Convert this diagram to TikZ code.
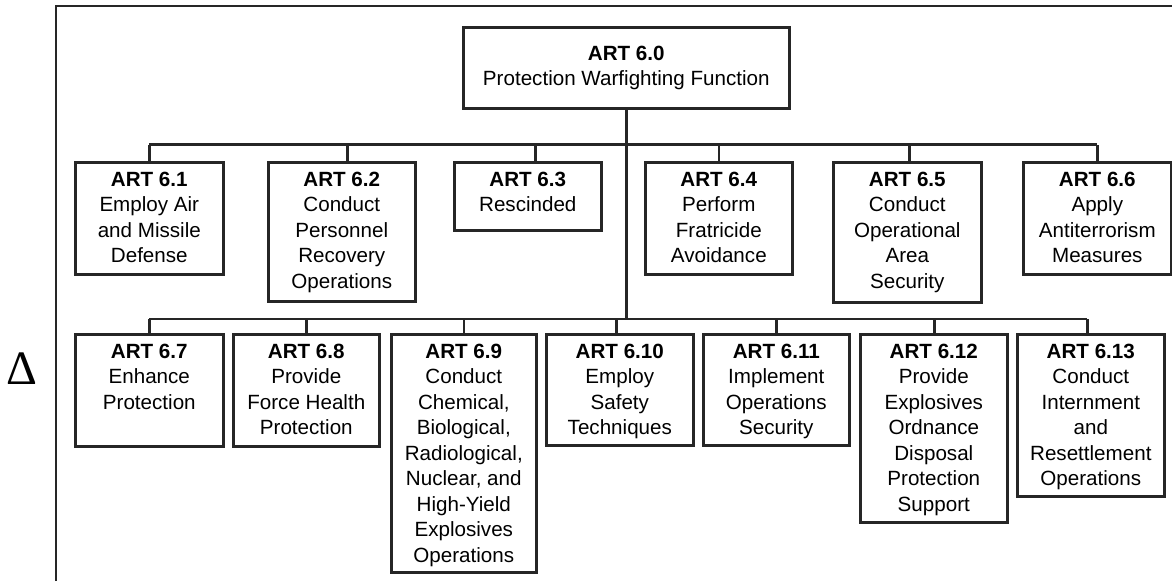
\documentclass[tikz,border=0pt]{standalone}
\usepackage{fontspec}
\setmainfont{Liberation Sans}
\newfontfamily\deltafont{Liberation Serif}
\usetikzlibrary{calc}
\newcommand\artcontent[4]{\parbox[t][#2pt][t]{#1pt}{\centering\vspace*{#3pt}#4}}
\tikzset{
  artbox/.style={draw=black!85, line width=2.6pt, inner sep=0pt, anchor=north west,
    font=\fontsize{20.6}{25.5}\selectfont},
  conn/.style={draw=black!85, line width=2.6pt},
  frameline/.style={draw=black!85, line width=2.6pt}
}
\begin{document}
\begin{tikzpicture}[x=1pt,y=-1pt]
\useasboundingbox (0,0) rectangle (1172,581);
% frame
\coordinate (fb) at (56,581);
\coordinate (fc) at (56,6);
\coordinate (fr) at (1172,6);
\draw[frameline] (fb) -- (fc) -- (fr);
\node[font=\deltafont\fontsize{48}{48}\selectfont, inner sep=0pt] (delta) at (22,369) {Δ};
% top
\node[artbox] (b60) at (462,26) {\artcontent{326}{81}{18.5}{\textbf{ART 6.0}\\Protection Warfighting Function}};
% row 1
\node[artbox] (b61) at (74,161) {\artcontent{148}{112}{9.5}{\textbf{ART 6.1}\\Employ Air\\and Missile\\Defense}};
\node[artbox] (b62) at (267,161) {\artcontent{147}{139}{9.5}{\textbf{ART 6.2}\\Conduct\\Personnel\\Recovery\\Operations}};
\node[artbox] (b63) at (453,161) {\artcontent{147}{68}{9.5}{\textbf{ART 6.3}\\Rescinded}};
\node[artbox] (b64) at (644,161) {\artcontent{147}{112}{9.5}{\textbf{ART 6.4}\\Perform\\Fratricide\\Avoidance}};
\node[artbox] (b65) at (832,161) {\artcontent{148}{140}{9.5}{\textbf{ART 6.5}\\Conduct\\Operational\\Area\\Security}};
\node[artbox] (b66) at (1022,161) {\artcontent{148}{112}{9.5}{\textbf{ART 6.6}\\Apply\\Antiterrorism\\Measures}};
% row 2
\node[artbox] (b67) at (74,333) {\artcontent{148}{112}{9.5}{\textbf{ART 6.7}\\Enhance\\Protection}};
\node[artbox] (b68) at (232,333) {\artcontent{146}{112}{9.5}{\textbf{ART 6.8}\\Provide\\Force Health\\Protection}};
\node[artbox] (b69) at (390,333) {\artcontent{145}{238}{9.5}{\textbf{ART 6.9}\\Conduct\\Chemical,\\Biological,\\Radiological,\\Nuclear, and\\High-Yield\\Explosives\\Operations}};
\node[artbox] (b610) at (545,333) {\artcontent{147}{111}{9.5}{\textbf{ART 6.10}\\Employ\\Safety\\Techniques}};
\node[artbox] (b611) at (702,333) {\artcontent{146}{111}{9.5}{\textbf{ART 6.11}\\Implement\\Operations\\Security}};
\node[artbox] (b612) at (859,333) {\artcontent{147}{188}{9.5}{\textbf{ART 6.12}\\Provide\\Explosives\\Ordnance\\Disposal\\Protection\\Support}};
\node[artbox] (b613) at (1016,333) {\artcontent{147}{162}{9.5}{\textbf{ART 6.13}\\Conduct\\Internment\\and\\Resettlement\\Operations}};
% buses
\coordinate (bus1) at (0,144.5);
\coordinate (bus2) at (0,319);
\coordinate (j2) at (b60.south |- bus2);
\draw[conn] (b60.south) -- (j2);
\draw[conn] (b61.north |- bus1) -- (b66.north |- bus1);
\draw[conn] (b67.north |- bus2) -- ([xshift=-3.5pt]b613.north |- bus2);
% row 1 drops
\draw[conn] (b61.north) -- (b61.north |- bus1);
\draw[conn] ([xshift=5.5pt]b62.north) -- ([xshift=5.5pt]b62.north |- bus1);
\draw[conn] ([xshift=7.5pt]b63.north) -- ([xshift=7.5pt]b63.north |- bus1);
\draw[conn] (b64.north) -- (b64.north |- bus1);
\draw[conn] ([xshift=2pt]b65.north) -- ([xshift=2pt]b65.north |- bus1);
\draw[conn] (b66.north) -- (b66.north |- bus1);
% row 2 drops
\draw[conn] (b67.north) -- (b67.north |- bus2);
\draw[conn] (b68.north) -- (b68.north |- bus2);
\draw[conn] (b69.north) -- (b69.north |- bus2);
\draw[conn] ([xshift=-3.5pt]b610.north) -- ([xshift=-3.5pt]b610.north |- bus2);
\draw[conn] (b611.north) -- (b611.north |- bus2);
\draw[conn] ([xshift=0.5pt]b612.north) -- ([xshift=0.5pt]b612.north |- bus2);
\draw[conn] ([xshift=-3.5pt]b613.north) -- ([xshift=-3.5pt]b613.north |- bus2);
\end{tikzpicture}
\end{document}
